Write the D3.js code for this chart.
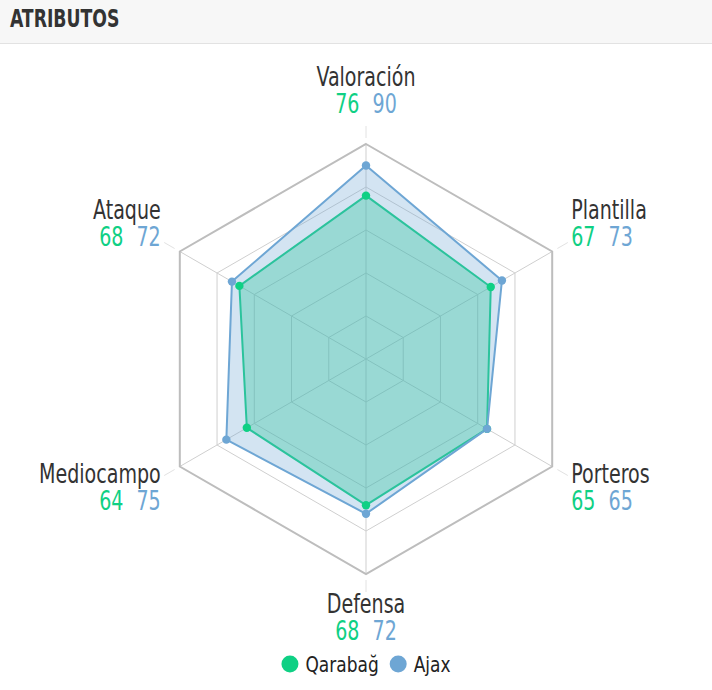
<!DOCTYPE html>
<html>
<head>
<meta charset="utf-8">
<script src="https://cdn.jsdelivr.net/npm/d3@7"></script>
<style>
  html, body { margin: 0; padding: 0; background: #fff; }
  svg { display: block; }
  text { font-family: "Liberation Sans Narrow", "Arial Narrow", "DejaVu Sans Condensed", "DejaVu Sans", sans-serif; }
</style>
</head>
<body>
<svg id="chart" width="712" height="690"></svg>
<script>
const title = "ATRIBUTOS";
const categories = ["Valoración", "Plantilla", "Porteros", "Defensa", "Mediocampo", "Ataque"];
const seriesNames = ["Qarabağ", "Ajax"];
const qarabagValues = [76, 67, 65, 68, 64, 68];
const ajaxValues = [90, 73, 65, 72, 75, 72];
const gridLevels = [20, 40, 60, 80, 100];
const colors = ["#0fd084", "#6ea6d4"];

const svg = d3.select("#chart");
const W = 712, H = 690;
const cx = 366, cy = 359, R = 215;
const SX = 0.815; // horizontal compression to mimic a condensed face

// helper: text at (x,y) compressed horizontally around its anchor
function ctext(parent, x, y, sx) {
  const grp = parent.append("g").attr("transform", `translate(${x},${y}) scale(${sx},1)`);
  return grp.append("text").attr("x", 0).attr("y", 0);
}

// header
svg.append("rect").attr("x", 0).attr("y", 0).attr("width", W).attr("height", 43).attr("fill", "#f7f7f7");
svg.append("line").attr("x1", 0).attr("x2", W).attr("y1", 43.5).attr("y2", 43.5).attr("stroke", "#e2e2e2");
ctext(svg, 10, 27, 0.8).text(title)
  .attr("font-size", 24).attr("font-weight", "bold").attr("fill", "#333");

const rScale = d3.scaleLinear().domain([0, 100]).range([0, R]);
const angle = d3.scalePoint().domain(categories).range([0, 2 * Math.PI * (categories.length - 1) / categories.length]);

const g = svg.append("g").attr("transform", `translate(${cx},${cy})`);
const pt = (cat, v) => {
  const a = angle(cat) - Math.PI / 2;
  return [Math.cos(a) * rScale(v), Math.sin(a) * rScale(v)];
};

// spokes
categories.forEach(c => {
  const [x1, y1] = pt(c, 0), [x2, y2] = pt(c, 100);
  g.append("line").attr("x1", x1).attr("y1", y1).attr("x2", x2).attr("y2", y2)
    .attr("stroke", "#cfcfcf").attr("stroke-width", 1);
  const a = angle(c) - Math.PI / 2;
  g.append("line")
    .attr("x1", Math.cos(a) * (R + 6)).attr("y1", Math.sin(a) * (R + 6))
    .attr("x2", Math.cos(a) * (R + 18)).attr("y2", Math.sin(a) * (R + 18))
    .attr("stroke", "#e2e2e2").attr("stroke-width", 1);
});

// grid rings
const ringLine = d3.line().curve(d3.curveLinearClosed);
gridLevels.forEach(l => {
  g.append("path").attr("d", ringLine(categories.map(c => pt(c, l))))
    .attr("fill", "none")
    .attr("stroke", l === 100 ? "#bdbdbd" : "#cfcfcf")
    .attr("stroke-width", l === 100 ? 2 : 1);
});

// series
const allSeries = [qarabagValues, ajaxValues];
const fillOp = [0.34, 0.3];
allSeries.forEach((vals, si) => {
  const pts = categories.map((c, i) => pt(c, vals[i]));
  g.append("path").attr("d", ringLine(pts))
    .attr("fill", colors[si]).attr("fill-opacity", fillOp[si])
    .attr("stroke", colors[si]).attr("stroke-width", 2).attr("stroke-linejoin", "round");
});
allSeries.forEach((vals, si) => {
  g.selectAll(null).data(categories).enter().append("circle")
    .attr("cx", (c, i) => pt(c, vals[i])[0])
    .attr("cy", (c, i) => pt(c, vals[i])[1])
    .attr("r", 4.2).attr("fill", colors[si]);
});

// labels
const FS = 26;
categories.forEach((c, i) => {
  const a = angle(c) - Math.PI / 2;
  const px = Math.cos(a) * (R + 22), py = Math.sin(a) * (R + 22);
  const cs = Math.cos(a), sn = Math.sin(a);
  const anchor = cs > 0.1 ? "start" : (cs < -0.1 ? "end" : "middle");
  let dy;
  if (anchor === "middle") dy = sn < 0 ? -36 : 17;
  else dy = sn < 0 ? -22 : 5;
  const ly = py + dy;
  ctext(g, px, ly, SX).attr("text-anchor", anchor)
    .attr("font-size", FS).attr("fill", "#333").text(c);
  const nt = ctext(g, px, ly + 27, SX).attr("text-anchor", anchor).attr("font-size", FS);
  nt.append("tspan").attr("fill", colors[0]).text(qarabagValues[i]);
  nt.append("tspan").attr("fill", colors[1]).attr("dx", 16).text(ajaxValues[i]);
});

// legend
const lg = svg.append("g");
let x = 0;
const LSX = 0.86;
seriesNames.forEach((n, i) => {
  const it = lg.append("g").attr("transform", `translate(${x},0)`);
  it.append("circle").attr("cx", 8.5).attr("cy", 664).attr("r", 8.5).attr("fill", colors[i]);
  const tx = ctext(it, 24, 672, LSX).attr("font-size", 22).attr("fill", "#222").text(n);
  const w = tx.node().getComputedTextLength() * LSX;
  x += 24 + w + 11;
});
const totalW = x - 11;
lg.attr("transform", `translate(${366 - totalW / 2},0)`);
</script>
</body>
</html>
